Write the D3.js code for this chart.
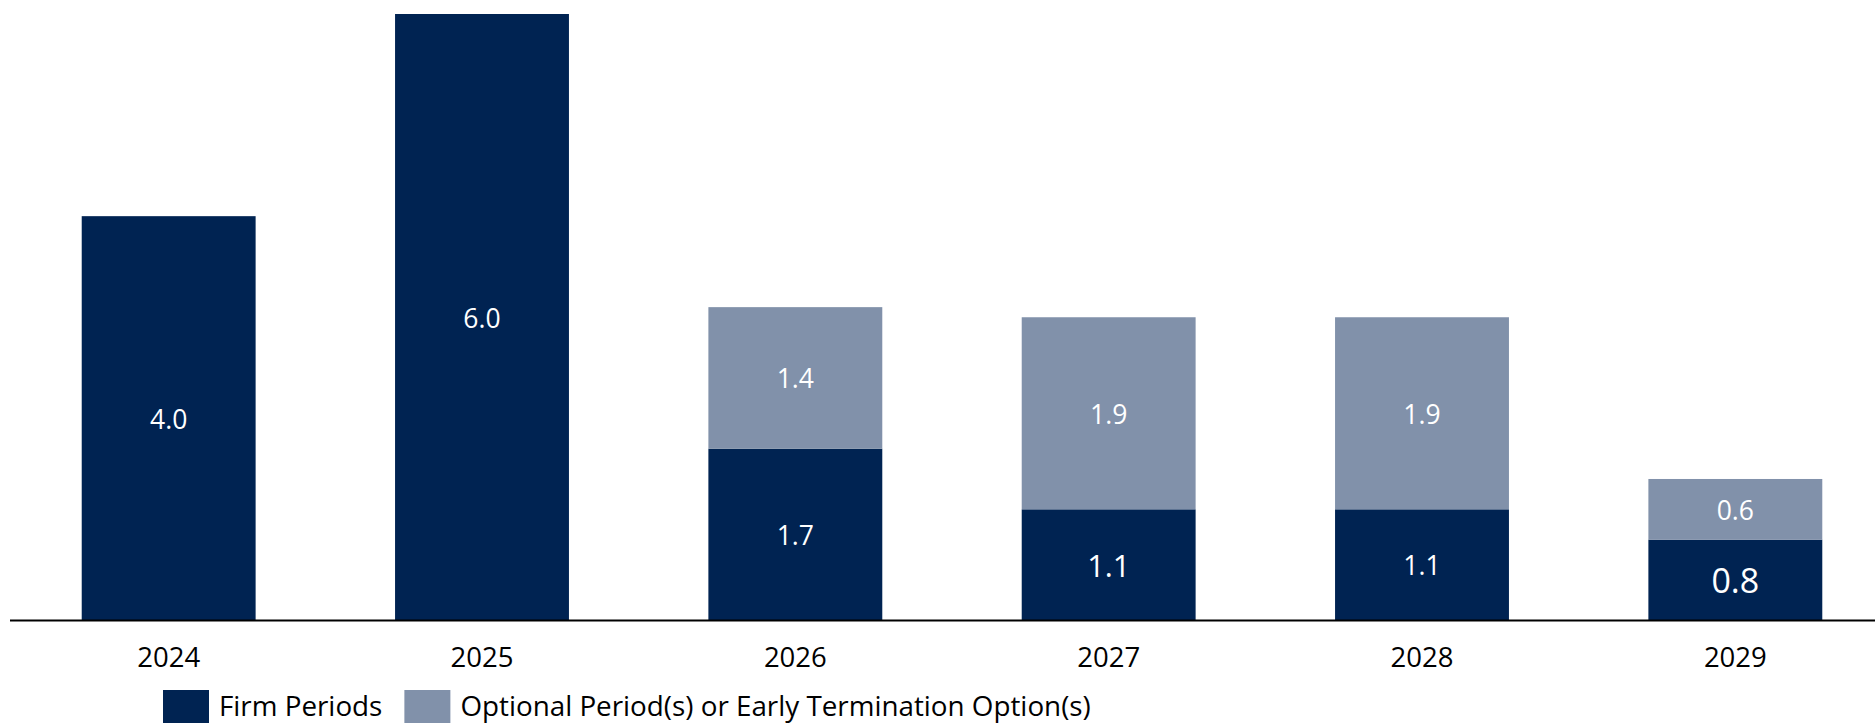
<!DOCTYPE html>
<html>
<head>
<meta charset="utf-8">
<script src="https://cdn.jsdelivr.net/npm/d3@7"></script>
<style>
  html, body { margin: 0; padding: 0; background: #ffffff; }
  svg { display: block; }
  text { font-family: "Open Sans", "Noto Sans", sans-serif; }
</style>
</head>
<body>
<svg id="chart" width="1875" height="723"></svg>
<script>
// ---- data ----
const years = ["2024", "2025", "2026", "2027", "2028", "2029"];
const firmPeriods = [4.0, 6.0, 1.7, 1.1, 1.1, 0.8];
const optionalPeriods = [0, 0, 1.4, 1.9, 1.9, 0.6];
const seriesNames = ["Firm Periods", "Optional Period(s) or Early Termination Option(s)"];
const firmLabelSizes = [26.5, 26.5, 26.5, 30.5, 26.5, 34]; // label font sizes (as in source)

// ---- style ----
const colors = ["#002352", "#8191AA"];
const W = 1875, H = 723;
const svg = d3.select("#chart");

const x = d3.scaleBand().domain(years).range([12, 1892]).paddingInner(0.445).paddingOuter(0.2225);
const y = d3.scaleLinear().domain([0, 6]).range([620.5, 14]);

const rows = years.map((yr, i) => ({ year: yr, firm: firmPeriods[i], optional: optionalPeriods[i], i }));
const stack = d3.stack().keys(["firm", "optional"]);
const stacked = stack(rows);

const g = svg.append("g");
stacked.forEach((layer, li) => {
  g.selectAll(null)
    .data(layer.filter(d => d[1] - d[0] > 0))
    .join("rect")
    .attr("x", d => x(d.data.year))
    .attr("width", x.bandwidth())
    .attr("y", d => y(d[1]))
    .attr("height", d => y(d[0]) - y(d[1]))
    .attr("fill", colors[li]);
});

// value labels
stacked.forEach((layer, li) => {
  g.selectAll(null)
    .data(layer.filter(d => d[1] - d[0] > 0))
    .join("text")
    .attr("x", d => x(d.data.year) + x.bandwidth() / 2)
    .attr("y", d => {
      const fs = li === 0 ? firmLabelSizes[d.data.i] : 26.5;
      return (y(d[0]) + y(d[1])) / 2 + 0.357 * fs + 1;
    })
    .attr("text-anchor", "middle")
    .attr("fill", "#ffffff")
    .style("font-size", d => (li === 0 ? firmLabelSizes[d.data.i] : 26.5) + "px")
    .text(d => (d[1] - d[0]).toFixed(1));
});

// x axis
const axis = svg.append("g")
  .attr("transform", `translate(0,${y(0)})`)
  .call(d3.axisBottom(x).tickSize(0).tickPadding(0));
axis.select(".domain").remove();
axis.append("line")
  .attr("x1", 10).attr("x2", W)
  .attr("y1", 0).attr("y2", 0)
  .attr("stroke", "#000").attr("stroke-width", 2);
axis.selectAll(".tick text")
  .attr("dy", null)
  .attr("y", 46)
  .attr("fill", "#000")
  .style("font-family", "'Open Sans', 'Noto Sans', sans-serif")
  .style("font-size", "27.5px");

// legend
const leg = svg.append("g");
let lx = 163;
seriesNames.forEach((name, i) => {
  leg.append("rect")
    .attr("x", lx).attr("y", 690)
    .attr("width", 46).attr("height", 46)
    .attr("fill", colors[i]);
  const t = leg.append("text")
    .attr("x", lx + 56).attr("y", 716)
    .attr("fill", "#000")
    .style("font-size", "27.8px")
    .text(name);
  lx = lx + 56 + t.node().getComputedTextLength() + 22;
});
</script>
</body>
</html>
